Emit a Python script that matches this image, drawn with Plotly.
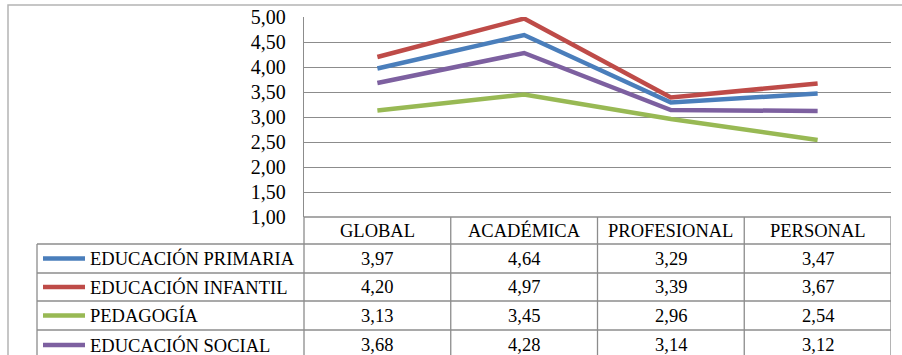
import plotly.graph_objects as go

categories = ["GLOBAL", "ACADÉMICA", "PROFESIONAL", "PERSONAL"]
series_names = ["EDUCACIÓN PRIMARIA", "EDUCACIÓN INFANTIL", "PEDAGOGÍA", "EDUCACIÓN SOCIAL"]
primaria = [3.97, 4.64, 3.29, 3.47]
infantil = [4.20, 4.97, 3.39, 3.67]
pedagogia = [3.13, 3.45, 2.96, 2.54]
social = [3.68, 4.28, 3.14, 3.12]
series_values = [primaria, infantil, pedagogia, social]
colors = ["#4A7EBB", "#BE4B48", "#98B954", "#7D60A0"]

W, H = 902, 355
FONT = "Liberation Serif"
GRID = "#8C8C8C"

def px(x):
    return x / W

def py(y):
    return 1 - y / H

plot_left, plot_right = 304, 891
plot_top, plot_bottom = 17, 217
row_lines = [217, 244, 273, 301, 330, 360]
legend_left = 37

fig = go.Figure()
for name, vals, col in zip(series_names, series_values, colors):
    fig.add_trace(go.Scatter(
        x=categories, y=vals, mode="lines", name=name,
        line=dict(color=col, width=4.5), showlegend=False,
    ))

fig.update_layout(
    width=W, height=H,
    autosize=False,
    margin=dict(l=0, r=0, t=0, b=0, pad=0, autoexpand=False),
    paper_bgcolor="white", plot_bgcolor="white",
    separators=",.",
    font=dict(family=FONT, color="#000000"),
    xaxis=dict(
        domain=[px(plot_left), px(plot_right)], automargin=False,
        range=[-0.5, 3.5], showticklabels=False, showgrid=False,
        zeroline=False, showline=False, ticks="",
    ),
    yaxis=dict(
        domain=[py(plot_bottom), py(plot_top)], automargin=False,
        range=[1, 5], dtick=0.5, tick0=1, tickformat=".2f",
        showgrid=True, gridcolor=GRID, gridwidth=1.3,
        showline=True, linecolor=GRID, linewidth=1.3,
        zeroline=False, ticks="", ticklabelstandoff=13,
        tickfont=dict(family=FONT, size=20, color="#000000"),
    ),
)

shapes = []
line_style = dict(color=GRID, width=1.3)
# outer chart border
shapes.append(dict(type="rect", xref="paper", yref="paper",
                   x0=px(8), x1=1.05, y0=-0.05, y1=py(5),
                   line=dict(color="#B4B4B4", width=1.5), fillcolor="rgba(0,0,0,0)"))
# horizontal table lines
for i, yv in enumerate(row_lines):
    x0 = px(plot_left) if i == 0 else px(legend_left)
    shapes.append(dict(type="line", xref="paper", yref="paper",
                       x0=x0, x1=px(plot_right), y0=py(yv), y1=py(yv), line=line_style))
# vertical table lines
shapes.append(dict(type="line", xref="paper", yref="paper",
                   x0=px(legend_left), x1=px(legend_left), y0=py(row_lines[1]), y1=py(row_lines[-1]),
                   line=line_style))
shapes.append(dict(type="line", xref="paper", yref="paper",
                   x0=px(plot_left), x1=px(plot_left), y0=py(row_lines[0]), y1=py(row_lines[-1]),
                   line=line_style))
for k in range(len(categories)):
    shapes.append(dict(type="line", xref="x", yref="paper",
                       x0=k + 0.5, x1=k + 0.5, y0=py(row_lines[0]), y1=py(row_lines[-1]),
                       line=line_style))
# legend swatches
for i, col in enumerate(colors):
    yc = (row_lines[i + 1] + row_lines[i + 2]) / 2
    shapes.append(dict(type="line", xref="paper", yref="paper",
                       x0=px(43), x1=px(85), y0=py(yc), y1=py(yc),
                       line=dict(color=col, width=4.5)))
fig.update_layout(shapes=shapes)

ann = []
TFONT = dict(family=FONT, size=18.5, color="#000000")
hy = (row_lines[0] + row_lines[1]) / 2
for k, c in enumerate(categories):
    ann.append(dict(x=k, y=py(hy), xref="x", yref="paper", text=c, showarrow=False,
                    xanchor="center", yanchor="middle", font=TFONT))
for i, (name, vals) in enumerate(zip(series_names, series_values)):
    yc = (row_lines[i + 1] + row_lines[i + 2]) / 2
    ann.append(dict(x=px(88), y=py(yc), xref="paper", yref="paper", text=name, showarrow=False,
                    xanchor="left", yanchor="middle", font=TFONT))
    for k, v in enumerate(vals):
        ann.append(dict(x=k, y=py(yc), xref="x", yref="paper",
                        text=f"{v:.2f}".replace(".", ","), showarrow=False,
                        xanchor="center", yanchor="middle", font=TFONT))
fig.update_layout(annotations=ann)

fig.write_html("out.html")
